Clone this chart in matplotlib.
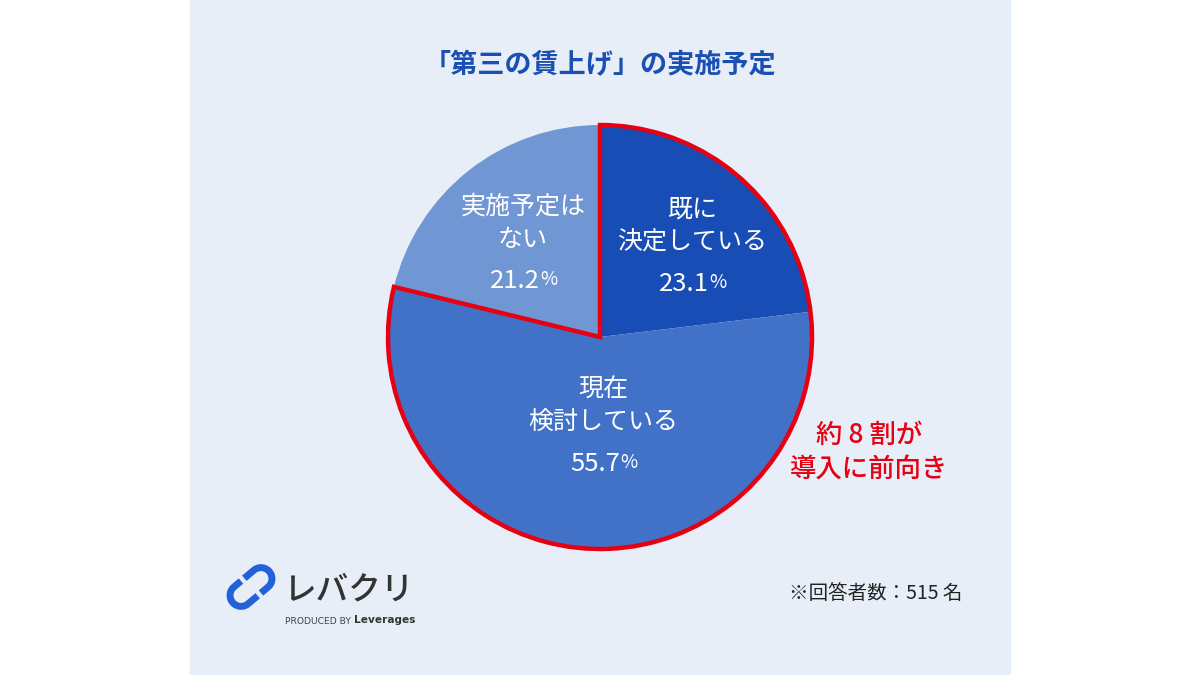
import numpy as np
import matplotlib.pyplot as plt
from matplotlib.patches import Wedge, Rectangle

plt.rcParams['font.family'] = ['Noto Sans CJK JP', 'DejaVu Sans']

title = '「第三の賃上げ」の実施予定'
labels = [('既に', '決定している'), ('現在', '検討している'), ('実施予定は', 'ない')]
shares = [23.1, 55.7, 21.2]
colors = ['#174db5', '#4272c7', '#7096d3']
note = '※回答者数：515 名'
callout = ['約 8 割が', '導入に前向き']

W, H = 1200, 675
def Y(y):
    return H - y

fig = plt.figure(figsize=(12, 6.75), dpi=100, facecolor='white')
ax = fig.add_axes([0, 0, 1, 1])
ax.add_patch(Rectangle((190, 0), 820, H, color='#e8eef8', zorder=0))

cx, cy, R = 600, Y(337), 212
ax.pie(shares, colors=colors, startangle=90, counterclock=False,
       center=(cx, cy), radius=R, frame=True,
       wedgeprops=dict(linewidth=0))

# red outline round the first two slices
pos = shares[0] + shares[1]
ax.add_patch(Wedge((cx, cy), R, 90 - pos * 3.6, 90, facecolor='none',
                   edgecolor='#e60012', linewidth=3.2, zorder=5))

ax.text(600, Y(65), title, ha='center', va='center', fontsize=19.5,
        fontweight='bold', color='#1a4fb3')

# slice labels
label_xy = [(692, 210), (603, 390), (523, 207)]
for (l1, l2), v, (x, y) in zip(labels, shares, label_xy):
    ax.text(x, Y(y), l1, ha='center', va='center', fontsize=18, color='white', zorder=6)
    ax.text(x, Y(y + 33), l2, ha='center', va='center', fontsize=18, color='white', zorder=6)
    t = ax.text(x - 8, Y(y + 74), f'{v:.1f}', ha='center', va='center',
                fontsize=18.5, color='white', zorder=6)
    ax.annotate('%', xy=(1, 0.14), xycoords=t, ha='left', va='bottom',
                fontsize=13.5, color='white', zorder=6)

ax.text(869, Y(435), callout[0], ha='center', va='center', fontsize=19,
        fontweight='medium', color='#e60012')
ax.text(869, Y(469), callout[1], ha='center', va='center', fontsize=19,
        fontweight='medium', color='#e60012')

ax.text(962, Y(594), note, ha='right', va='center', fontsize=14, color='#222222')

# logo: link icon
ang = np.deg2rad(40)
rot = np.array([[np.cos(ang), -np.sin(ang)], [np.sin(ang), np.cos(ang)]])
def hook(u0, u1, w, sign):
    # U-shaped stroke: straight legs from u0 to u1 then round end
    t = np.linspace(-np.pi / 2, np.pi / 2, 30)
    top = np.array([[u0, u1], [w, w]])
    arc = np.array([u1 + w * np.cos(t[::-1]), w * np.sin(t[::-1])])
    bot = np.array([[u1, u0 + 0.3 * w], [-w, -w]])
    pts = np.hstack([top, arc, bot]) * sign
    return rot @ pts
lx, ly = 251, Y(587)
for sign in (1, -1):
    p = hook(0.5, 13, 11, sign)
    ax.plot(lx + p[0], ly + p[1], color='#2261d8', linewidth=5,
            solid_capstyle='butt', solid_joinstyle='round', zorder=6)

ax.text(283, Y(590), 'レバクリ', ha='left', va='center', fontsize=23.5,
        fontweight='medium', color='#333333')
ax.text(285, Y(621), 'PRODUCED BY', ha='left', va='center', fontsize=6.6,
        color='#444444', family=['DejaVu Sans'])
ax.text(354, Y(620), 'Leverages', ha='left', va='center', fontsize=7.6,
        fontweight='bold', color='#333333', family=['DejaVu Sans'])

ax.set_xlim(0, W)
ax.set_ylim(0, H)
ax.set_aspect('equal')
ax.axis('off')
fig.savefig('out.png', dpi=100, facecolor='white')
